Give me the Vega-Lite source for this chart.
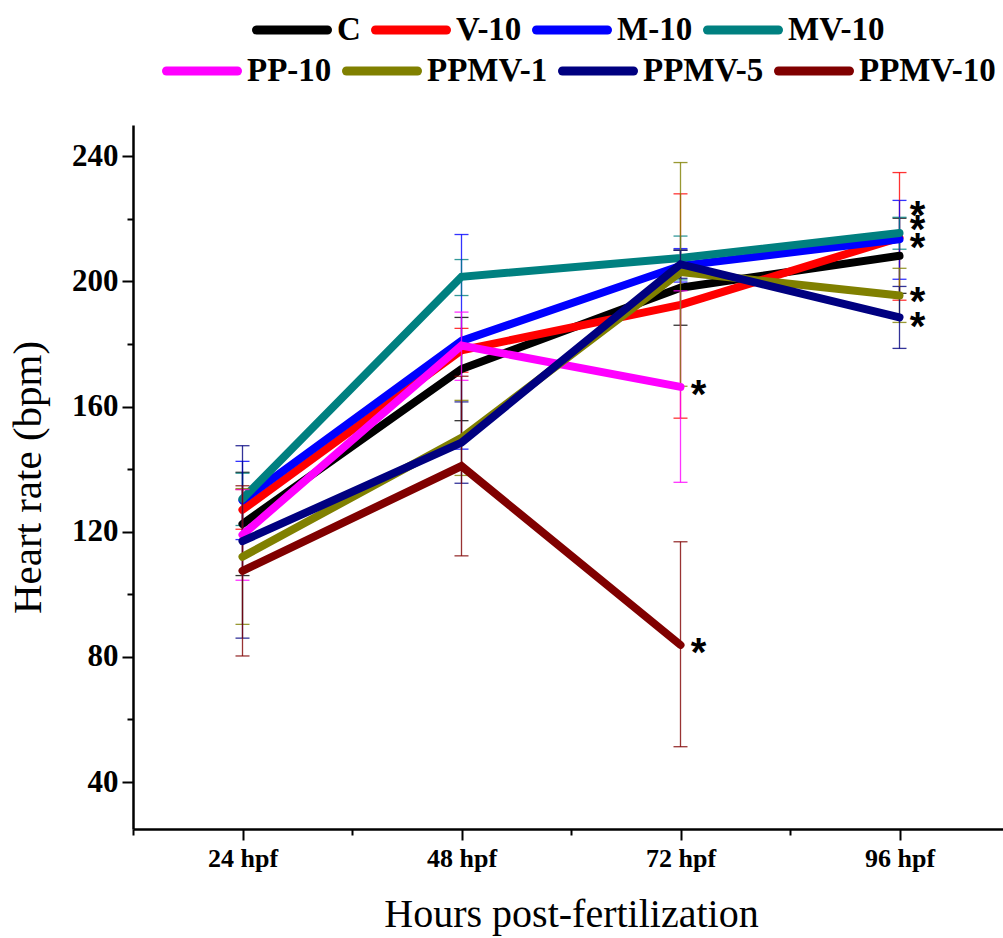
{
  "$schema": "https://vega.github.io/schema/vega-lite/v6.json",
  "width": 876,
  "height": 704,
  "autosize": {"type": "none"},
  "padding": {"left": 133, "top": 125, "right": 0, "bottom": 109},
  "background": "white",
  "config": {"view": {"stroke": null}, "font": "Liberation Serif"},
  "datasets": {
    "hr": [
      {"series": "C", "grp": 1, "hpf": 24, "mean": 122.5, "lo": 106, "hi": 139},
      {"series": "C", "grp": 1, "hpf": 48, "mean": 172, "lo": 155.5, "hi": 188.5},
      {"series": "C", "grp": 1, "hpf": 72, "mean": 198, "lo": 186, "hi": 210},
      {"series": "C", "grp": 1, "hpf": 96, "mean": 208.2, "lo": 196.2, "hi": 220.2},
      {"series": "V-10", "grp": 1, "hpf": 24, "mean": 127, "lo": 120.8, "hi": 133.5},
      {"series": "V-10", "grp": 1, "hpf": 48, "mean": 178, "lo": 171, "hi": 185},
      {"series": "V-10", "grp": 1, "hpf": 72, "mean": 192.5, "lo": 156.3, "hi": 228},
      {"series": "V-10", "grp": 1, "hpf": 96, "mean": 214, "lo": 194, "hi": 234.8},
      {"series": "M-10", "grp": 1, "hpf": 24, "mean": 130, "lo": 117.5, "hi": 142.5},
      {"series": "M-10", "grp": 1, "hpf": 48, "mean": 181, "lo": 146.4, "hi": 215},
      {"series": "M-10", "grp": 1, "hpf": 72, "mean": 205, "lo": 199.8, "hi": 210.5},
      {"series": "M-10", "grp": 1, "hpf": 96, "mean": 213.5, "lo": 200.7, "hi": 225.9},
      {"series": "MV-10", "grp": 1, "hpf": 24, "mean": 130.5, "lo": 122, "hi": 138.7},
      {"series": "MV-10", "grp": 1, "hpf": 48, "mean": 201.5, "lo": 195.5, "hi": 207},
      {"series": "MV-10", "grp": 1, "hpf": 72, "mean": 207.5, "lo": 200.5, "hi": 214.5},
      {"series": "MV-10", "grp": 1, "hpf": 96, "mean": 215.5, "lo": 210.3, "hi": 220.5},
      {"series": "PP-10", "grp": 2, "hpf": 24, "mean": 119, "lo": 104.5, "hi": 133.5},
      {"series": "PP-10", "grp": 2, "hpf": 48, "mean": 179.5, "lo": 168.4, "hi": 190.2},
      {"series": "PP-10", "grp": 2, "hpf": 72, "mean": 166.3, "lo": 135.8, "hi": 197},
      {"series": "PPMV-1", "grp": 2, "hpf": 24, "mean": 112, "lo": 90.4, "hi": 133.8},
      {"series": "PPMV-1", "grp": 2, "hpf": 48, "mean": 150, "lo": 138, "hi": 162},
      {"series": "PPMV-1", "grp": 2, "hpf": 72, "mean": 203, "lo": 166.5, "hi": 238},
      {"series": "PPMV-1", "grp": 2, "hpf": 96, "mean": 195.5, "lo": 186.9, "hi": 204.2},
      {"series": "PPMV-5", "grp": 2, "hpf": 24, "mean": 117, "lo": 86, "hi": 147.5},
      {"series": "PPMV-5", "grp": 2, "hpf": 48, "mean": 148.5, "lo": 135.5, "hi": 161.5},
      {"series": "PPMV-5", "grp": 2, "hpf": 72, "mean": 205.5, "lo": 201, "hi": 210},
      {"series": "PPMV-5", "grp": 2, "hpf": 96, "mean": 188.5, "lo": 178.6, "hi": 198.4},
      {"series": "PPMV-10", "grp": 2, "hpf": 24, "mean": 107.5, "lo": 80.3, "hi": 134.7},
      {"series": "PPMV-10", "grp": 2, "hpf": 48, "mean": 141, "lo": 112.3, "hi": 169.7},
      {"series": "PPMV-10", "grp": 2, "hpf": 72, "mean": 83.8, "lo": 51.3, "hi": 116.8}
    ],
    "stars": [
      {"hpf": 96, "pos": 224},
      {"hpf": 96, "pos": 219.5},
      {"hpf": 96, "pos": 214},
      {"hpf": 96, "pos": 196.5},
      {"hpf": 96, "pos": 188.5},
      {"hpf": 72, "pos": 167},
      {"hpf": 72, "pos": 84.5}
    ]
  },
  "layer": [
    {
      "data": {"name": "hr"},
      "transform": [{"filter": "datum.grp == 1"}],
      "layer": [
        {
          "mark": {"type": "errorbar", "thickness": 1.3, "rule": {"opacity": 0.8}, "ticks": {"size": 14, "opacity": 0.8}},
          "encoding": {
            "x": {"field": "hpf", "type": "quantitative",
              "scale": {"domain": [12, 108], "nice": false, "zero": false},
              "axis": {"orient": "bottom", "values": [24, 48, 72, 96], "labelExpr": "datum.value + ' hpf'", "grid": false, "tickSize": 11, "tickWidth": 2, "tickColor": "black", "domainColor": "black", "domainWidth": 2.5, "labelFont": "Liberation Serif", "labelFontWeight": "bold", "labelFontSize": 26, "labelColor": "black", "labelPadding": 5, "labelFlush": false, "title": "Hours post-fertilization", "titleFont": "Liberation Serif", "titleFontWeight": "normal", "titleFontSize": 40, "titleColor": "black", "titlePadding": 23}},
            "y": {"field": "lo", "type": "quantitative",
              "scale": {"domain": [25, 250], "nice": false, "zero": false},
              "axis": {"orient": "left", "values": [40, 80, 120, 160, 200, 240], "grid": false, "tickSize": 11, "tickWidth": 2, "tickColor": "black", "domainColor": "black", "domainWidth": 2.5, "labelFont": "Liberation Serif", "labelFontWeight": "bold", "labelFontSize": 31, "labelColor": "black", "labelPadding": 4, "labelFlush": false, "title": "Heart rate (bpm)", "titleFont": "Liberation Serif", "titleFontWeight": "normal", "titleFontSize": 41, "titleColor": "black", "titlePadding": 22}},
            "y2": {"field": "hi"},
            "color": {"field": "series", "type": "nominal",
              "scale": {"domain": ["C", "V-10", "M-10", "MV-10"], "range": ["#000000", "#ff0000", "#0000ff", "#008080"]},
              "legend": {"orient": "none", "legendX": 119, "legendY": -135, "direction": "horizontal", "title": null, "symbolType": "stroke", "symbolSize": 5041, "symbolStrokeWidth": 9, "labelFont": "Liberation Serif", "labelFontWeight": "bold", "labelFontSize": 33, "labelColor": "black", "labelOffset": 5, "columnPadding": -4, "padding": 0, "labelLimit": 300, "encode": {"symbols": {"update": {"strokeCap": {"value": "round"}}}}}}
          }
        },
        {
          "mark": {"type": "line", "strokeWidth": 8, "strokeCap": "round", "strokeJoin": "miter"},
          "encoding": {
            "x": {"field": "hpf", "type": "quantitative",
              "scale": {"domain": [12, 108], "nice": false, "zero": false},
              "axis": {"orient": "bottom", "values": [24, 48, 72, 96], "labelExpr": "datum.value + ' hpf'", "grid": false, "tickSize": 11, "tickWidth": 2, "tickColor": "black", "domainColor": "black", "domainWidth": 2.5, "labelFont": "Liberation Serif", "labelFontWeight": "bold", "labelFontSize": 26, "labelColor": "black", "labelPadding": 5, "labelFlush": false, "title": "Hours post-fertilization", "titleFont": "Liberation Serif", "titleFontWeight": "normal", "titleFontSize": 40, "titleColor": "black", "titlePadding": 23}},
            "y": {"field": "mean", "type": "quantitative",
              "scale": {"domain": [25, 250], "nice": false, "zero": false},
              "axis": {"orient": "left", "values": [40, 80, 120, 160, 200, 240], "grid": false, "tickSize": 11, "tickWidth": 2, "tickColor": "black", "domainColor": "black", "domainWidth": 2.5, "labelFont": "Liberation Serif", "labelFontWeight": "bold", "labelFontSize": 31, "labelColor": "black", "labelPadding": 4, "labelFlush": false, "title": "Heart rate (bpm)", "titleFont": "Liberation Serif", "titleFontWeight": "normal", "titleFontSize": 41, "titleColor": "black", "titlePadding": 22}},
            "color": {"field": "series", "type": "nominal",
              "scale": {"domain": ["C", "V-10", "M-10", "MV-10"], "range": ["#000000", "#ff0000", "#0000ff", "#008080"]},
              "legend": {"orient": "none", "legendX": 119, "legendY": -135, "direction": "horizontal", "title": null, "symbolType": "stroke", "symbolSize": 5041, "symbolStrokeWidth": 9, "labelFont": "Liberation Serif", "labelFontWeight": "bold", "labelFontSize": 33, "labelColor": "black", "labelOffset": 5, "columnPadding": -4, "padding": 0, "labelLimit": 300, "encode": {"symbols": {"update": {"strokeCap": {"value": "round"}}}}}}
          }
        }
      ]
    },
    {
      "data": {"name": "hr"},
      "transform": [{"filter": "datum.grp == 2"}],
      "layer": [
        {
          "mark": {"type": "errorbar", "thickness": 1.3, "rule": {"opacity": 0.8}, "ticks": {"size": 14, "opacity": 0.8}},
          "encoding": {
            "x": {"field": "hpf", "type": "quantitative", "axis": null},
            "y": {"field": "lo", "type": "quantitative", "axis": null},
            "y2": {"field": "hi"},
            "color": {"field": "series", "type": "nominal",
              "scale": {"domain": ["PP-10", "PPMV-1", "PPMV-5", "PPMV-10"], "range": ["#ff00ff", "#808000", "#000080", "#800000"]},
              "legend": {"orient": "none", "legendX": 29, "legendY": -94, "direction": "horizontal", "title": null, "symbolType": "stroke", "symbolSize": 5041, "symbolStrokeWidth": 9, "labelFont": "Liberation Serif", "labelFontWeight": "bold", "labelFontSize": 33, "labelColor": "black", "labelOffset": 5, "columnPadding": -4, "padding": 0, "labelLimit": 300, "encode": {"symbols": {"update": {"strokeCap": {"value": "round"}}}}}}
          }
        },
        {
          "mark": {"type": "line", "strokeWidth": 8, "strokeCap": "round", "strokeJoin": "miter"},
          "encoding": {
            "x": {"field": "hpf", "type": "quantitative", "axis": null},
            "y": {"field": "mean", "type": "quantitative", "axis": null},
            "color": {"field": "series", "type": "nominal",
              "scale": {"domain": ["PP-10", "PPMV-1", "PPMV-5", "PPMV-10"], "range": ["#ff00ff", "#808000", "#000080", "#800000"]},
              "legend": {"orient": "none", "legendX": 29, "legendY": -94, "direction": "horizontal", "title": null, "symbolType": "stroke", "symbolSize": 5041, "symbolStrokeWidth": 9, "labelFont": "Liberation Serif", "labelFontWeight": "bold", "labelFontSize": 33, "labelColor": "black", "labelOffset": 5, "columnPadding": -4, "padding": 0, "labelLimit": 300, "encode": {"symbols": {"update": {"strokeCap": {"value": "round"}}}}}}
          }
        }
      ]
    },
    {
      "data": {"name": "stars"},
      "mark": {"type": "text", "text": "*", "font": "Liberation Sans", "fontWeight": "bold", "fontSize": 40, "align": "center", "baseline": "alphabetic", "dx": 18, "dy": 23, "color": "black"},
      "encoding": {
        "x": {"field": "hpf", "type": "quantitative",
          "axis": {"orient": "bottom", "values": [12, 36, 60, 84, 108], "labels": false, "domain": false, "grid": false, "tickSize": 6, "tickWidth": 2, "tickColor": "black", "title": null}},
        "y": {"field": "pos", "type": "quantitative",
          "axis": {"orient": "left", "values": [60, 100, 140, 180, 220], "labels": false, "domain": false, "grid": false, "tickSize": 6, "tickWidth": 2, "tickColor": "black", "title": null}}
      }
    }
  ],
  "resolve": {"scale": {"color": "independent"}, "axis": {"x": "independent", "y": "independent"}}
}
